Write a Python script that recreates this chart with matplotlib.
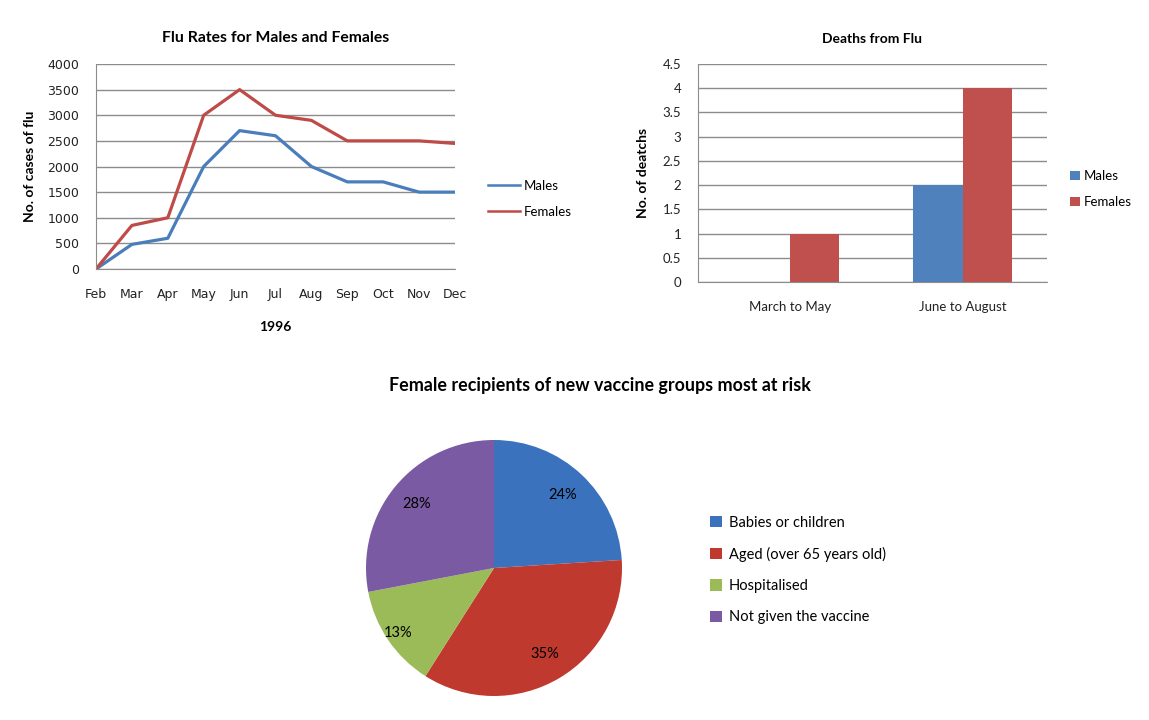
import numpy as np
import matplotlib.pyplot as plt

# data
months = ['Feb', 'Mar', 'Apr', 'May', 'Jun', 'Jul', 'Aug', 'Sep', 'Oct', 'Nov', 'Dec']
males_flu = [0, 480, 600, 2000, 2700, 2600, 2000, 1700, 1700, 1500, 1500]
females_flu = [0, 850, 1000, 3000, 3500, 3000, 2900, 2500, 2500, 2500, 2450]

periods = ['March to May', 'June to August']
males_deaths = [0, 2]
females_deaths = [1, 4]

groups = ['Babies or children', 'Aged (over 65 years old)', 'Hospitalised', 'Not given the vaccine']
shares = [24, 35, 13, 28]

W, H = 1149, 720
BLUE = '#4A7EBB'
RED = '#BE4B48'
GRID = '#8c8c8c'
TXT = 'Lato'


def box(l, t, r, b):
    # pixel box -> figure fraction
    return [l / W, 1 - b / H, (r - l) / W, (b - t) / H]


def style(ax):
    ax.grid(axis='y', color=GRID, lw=1)
    ax.set_axisbelow(True)
    for s in ['top', 'right']:
        ax.spines[s].set_visible(False)
    ax.spines['left'].set_color(GRID)
    ax.spines['bottom'].set_color(GRID)
    ax.tick_params(length=0, colors='#222222')


fig = plt.figure(figsize=(W / 100, H / 100), dpi=100)

# line chart
ax1 = fig.add_axes(box(96, 64, 455, 269))
x = np.arange(len(months))
ax1.plot(x, males_flu, color=BLUE, lw=2.3, label='Males')
ax1.plot(x, females_flu, color=RED, lw=2.3, label='Females')
ax1.set_xlim(0, len(months) - 1)
ax1.set_ylim(0, 4000)
ax1.set_yticks(np.arange(0, 4001, 500))
ax1.set_xticks(x)
ax1.set_xticklabels(months)
style(ax1)
ax1.tick_params(axis='x', pad=14, labelsize=9)
ax1.tick_params(axis='y', pad=12, labelsize=9)
ax1.set_title('Flu Rates for Males and Females', family=TXT, fontweight='bold',
              fontsize=11.3, pad=16)
ax1.set_ylabel('No. of cases of flu', family=TXT, fontweight='bold', fontsize=10, labelpad=8)
ax1.set_xlabel('1996', family=TXT, fontweight='bold', fontsize=10, labelpad=14)
leg1 = ax1.legend(loc='center left', bbox_to_anchor=(1.06, 0.342), frameon=False,
                  handlelength=2.4, handletextpad=0.3, labelspacing=1.05,
                  prop={'family': TXT, 'size': 9.5})
for ln in leg1.get_lines():
    ln.set_linewidth(1.8)

# bar chart
ax2 = fig.add_axes(box(698, 64, 1047, 282))
xb = np.arange(len(periods))
bw = 0.285
ax2.bar(xb - bw / 2, males_deaths, bw, color='#4F81BD', label='Males')
ax2.bar(xb + bw / 2, females_deaths, bw, color='#C0504D', label='Females')
ax2.set_xlim(-0.535, 1.49)
ax2.set_ylim(0, 4.5)
ax2.set_yticks(np.arange(0, 4.51, 0.5))
ax2.set_yticklabels(['0', '0.5', '1', '1.5', '2', '2.5', '3', '3.5', '4', '4.5'])
ax2.set_xticks(xb)
ax2.set_xticklabels(periods, family=TXT)
style(ax2)
ax2.tick_params(axis='x', pad=14, labelsize=9.5)
ax2.tick_params(axis='y', pad=12, labelsize=9.5)
for t in ax2.get_yticklabels():
    t.set_family(TXT)
ax2.set_title('Deaths from Flu', family=TXT, fontweight='bold', fontsize=10, pad=15)
ax2.set_ylabel('No. of deatchs', family=TXT, fontweight='bold', fontsize=10, labelpad=10)
ax2.legend(loc='center left', bbox_to_anchor=(1.033, 0.425), frameon=False,
           handlelength=0.7, handleheight=0.7, handletextpad=0.35, labelspacing=1.05,
           prop={'family': TXT, 'size': 9.5})

# pie chart
ax3 = fig.add_axes(box(366, 440, 622, 696))
wedges, texts, autos = ax3.pie(shares, colors=['#3A72BE', '#C0392F', '#9BBB59', '#7A5AA2'],
                               startangle=90, counterclock=False, autopct='%d%%',
                               pctdistance=0.78, textprops={'family': TXT, 'fontsize': 10.5})
ax3.set_xlim(-1, 1)
ax3.set_ylim(-1, 1)
ax3.set_aspect('equal')
px, py = autos[2].get_position()
autos[2].set_position((px * 1.16, py * 1.16))
fig.text(600 / W, 1 - 386 / H, 'Female recipients of new vaccine groups most at risk',
         family=TXT, fontweight='bold', fontsize=12.9, ha='center', va='center')
fig.legend(wedges, groups, loc='center left', bbox_to_anchor=(697 / W, 1 - 570 / H),
           frameon=False, handlelength=0.8, handleheight=0.8, handletextpad=0.5,
           labelspacing=1.18, prop={'family': TXT, 'size': 10.5})

fig.savefig('out.png', dpi=100)
